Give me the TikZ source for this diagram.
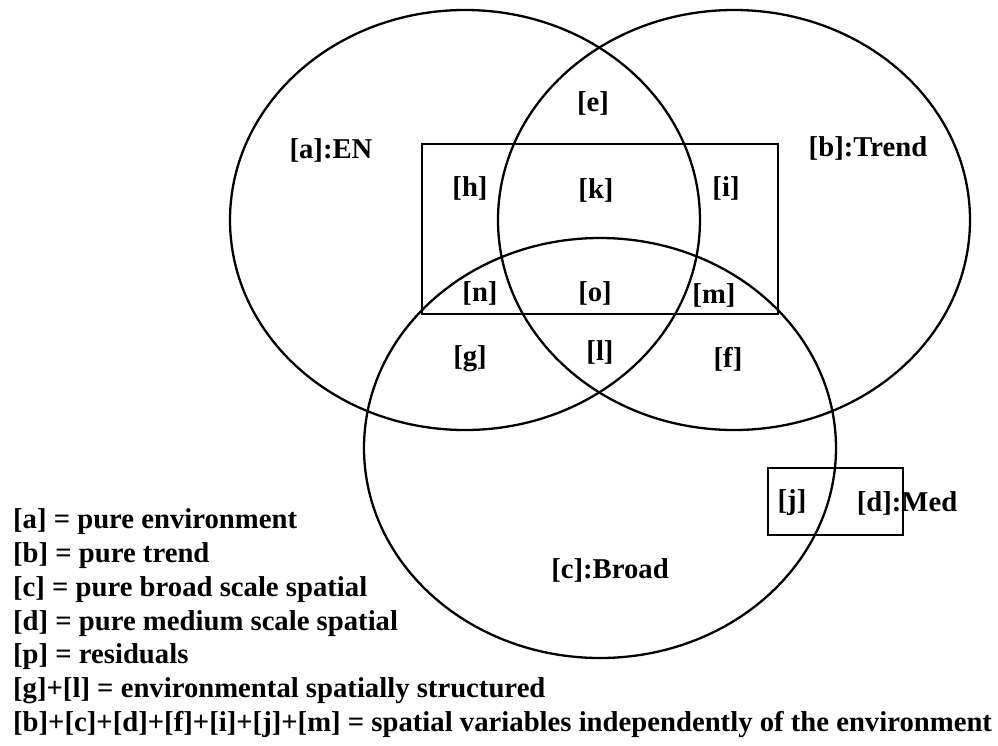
\documentclass[tikz,border=0pt]{standalone}
\usepackage{fontspec}
\setmainfont{Liberation Serif}
\usetikzlibrary{positioning}

\begin{document}
\begin{tikzpicture}[
    x=1pt, y=-1pt, % pixel units, y downwards
    line width=2.3pt,
    region/.style={font=\fontsize{28.7}{34}\selectfont\bfseries, inner sep=0pt},
    legend/.style={region, anchor=west}
]
  \useasboundingbox (0,0) rectangle (998,745);

  % --- SETS ---
  \draw (465,220) ellipse [x radius=235, y radius=210]; % EN
  \draw (734,220) ellipse [x radius=236, y radius=210]; % Trend
  \draw (600,448) ellipse [x radius=236, y radius=210]; % Broad
  \draw (422,144) rectangle (778,314);
  \draw (768,468) rectangle (903,535); % Med

  % --- REGION LABELS ---
  \node[region] (a) at (331,150) {[a]:EN};
  \node[region] (b) at (868,148) {[b]:Trend};
  \node[region] (c) at (610,570) {[c]:Broad};
  \node[region] (d) at (907,503) {[d]:Med};
  \node[region] (e) at (593,103) {[e]};
  \node[region] (h) at (470,188) {[h]};
  \node[region] (k) at (596,190) {[k]};
  \node[region] (i) at (726,188) {[i]};
  \node[region] (n) at (480,293) {[n]};
  \node[region] (o) at (595,293) {[o]};
  \node[region] (m) at (714,295) {[m]};
  \node[region] (g) at (470,359) {[g]};
  \node[region] (l) at (600,352) {[l]};
  \node[region] (f) at (728,359) {[f]};
  \node[region] (j) at (792,503) {[j]};

  % --- LEGEND ---
  \foreach \txt [count=\i from 0] in {
      {[a] = pure environment},
      {[b] = pure trend},
      {[c] = pure broad scale spatial},
      {[d] = pure medium scale spatial},
      {[p] = residuals},
      {[g]+[l] = environmental spatially structured},
      {[b]+[c]+[d]+[f]+[i]+[j]+[m] = spatial variables independently of the environment}}
    \node[legend] (leg-\i) at (12,522+33.7*\i) {\txt};

\end{tikzpicture}
\end{document}
